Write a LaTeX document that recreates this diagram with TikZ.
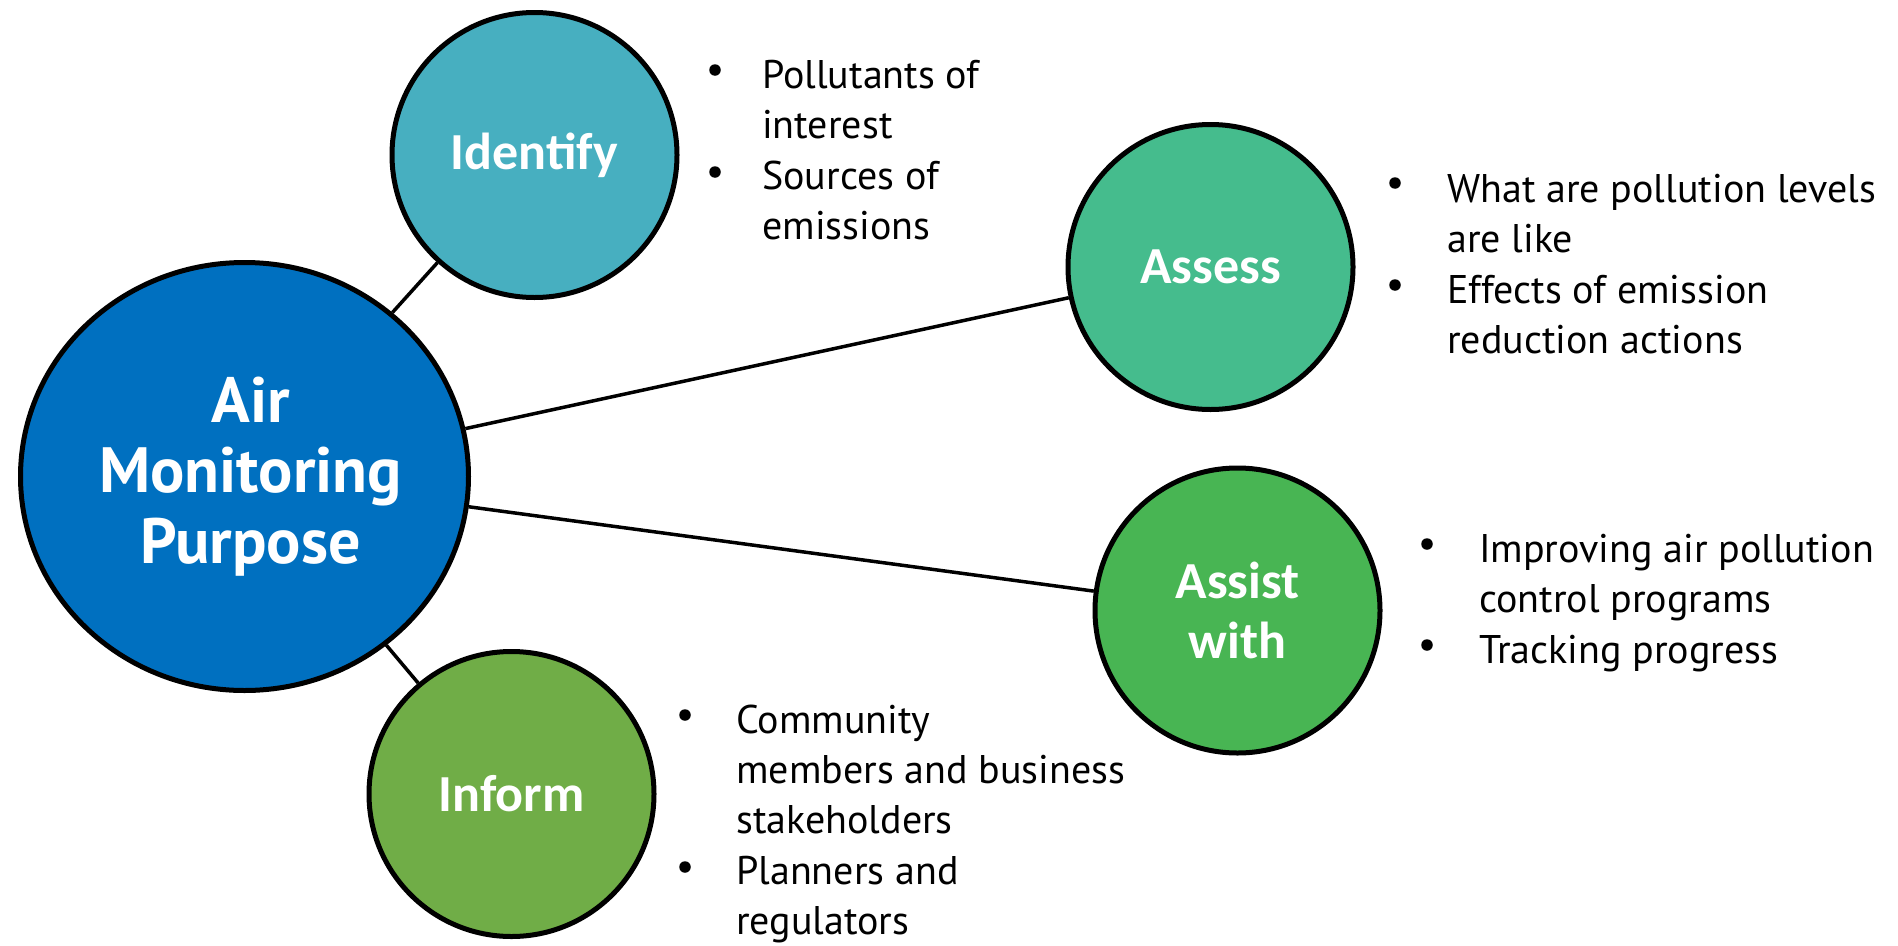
\documentclass[tikz,border=0pt]{standalone}
\usepackage{fontspec}
\usetikzlibrary{shapes.geometric}
\newfontfamily\bulfont{PT Sans}
\newfontfamily\circfont{Carlito}
\newfontfamily\hubfont{PT Sans}
\definecolor{cmain}{HTML}{0070C0}
\definecolor{cident}{HTML}{47AFC0}
\definecolor{cassess}{HTML}{45BC8D}
\definecolor{cassist}{HTML}{48B553}
\definecolor{cinform}{HTML}{70AD47}
\tikzset{
  hub/.style={ellipse, draw=black, line width=5pt, fill=cmain, minimum width=448pt, minimum height=428pt, inner sep=0pt},
  hublabel/.style={inner sep=0pt, text=white, align=center, font=\hubfont\bfseries\fontsize{64}{70.5}\selectfont},
  topic/.style={circle, draw=black, line width=5pt, minimum size=285pt, inner sep=0pt, text=white, align=center, font=\circfont\bfseries\fontsize{52}{60}\selectfont},
  link/.style={line width=3.5pt, draw=black},
  dot/.style={circle, fill=black, minimum size=11.5pt, inner sep=0pt},
  btext/.style={anchor=base west, inner sep=0pt, font=\bulfont\fontsize{40}{50}\selectfont},
}
\begin{document}
\begin{tikzpicture}[x=1pt,y=-1pt]
\useasboundingbox (0,0) rectangle (1898,945);
% main and topic circles
\node[hub] (hub) at (244.5,476.5) {};
\node[hublabel] (hubtext) at ([xshift=6pt]hub.center) {Air\\Monitoring\\Purpose};
\node[topic, fill=cident] (identify) at (534.5,155) {Identify};
\node[topic, fill=cassess] (assess) at (1210.5,267) {Assess};
\node[topic, fill=cassist] (assist) at (1237.5,610.5) {Assist\\with};
\node[topic, fill=cinform] (inform) at (511.5,794) {Inform};
% connectors
\draw[link] (hub) -- (identify);
\draw[link] (hub) -- (assess);
\draw[link] (hub) -- (assist);
\draw[link] (hub) -- (inform);
% Identify bullets
\node[dot] (idb1) at (715,70) {};
\node[dot] (idb2) at (715,172) {};
\node[btext] (idt) at (762,88) {\begin{tabular}[t]{@{}l@{}}Pollutants of\\interest\\[1.5pt]Sources of\\emissions\end{tabular}};
% Assess bullets
\node[dot] (asb1) at (1395,183) {};
\node[dot] (asb2) at (1395,285) {};
\node[btext] (ast) at (1447,202) {\begin{tabular}[t]{@{}l@{}}What are pollution levels\\are like\\[1.5pt]Effects of emission\\reduction actions\end{tabular}};
% Assist bullets
\node[dot] (awb1) at (1427,544) {};
\node[dot] (awb2) at (1427,645) {};
\node[btext] (awt) at (1479,562) {\begin{tabular}[t]{@{}l@{}}Improving air pollution\\control programs\\[1.5pt]Tracking progress\end{tabular}};
% Inform bullets
\node[dot] (inb1) at (685,715) {};
\node[dot] (inb2) at (685,867) {};
\node[btext] (int) at (736,733) {\begin{tabular}[t]{@{}l@{}}Community\\members and business\\stakeholders\\[1.5pt]Planners and\\regulators\end{tabular}};
\end{tikzpicture}
\end{document}
